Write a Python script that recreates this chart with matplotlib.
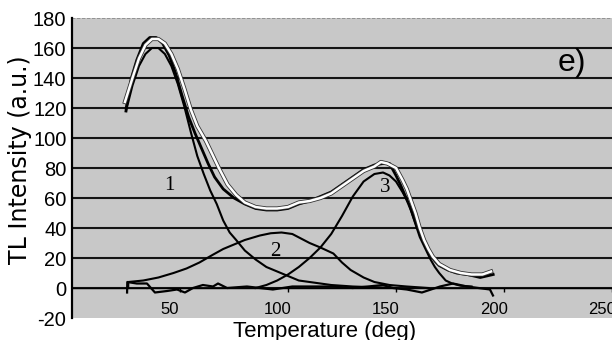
import numpy as np
import matplotlib
matplotlib.use('Agg')
import matplotlib.pyplot as plt
import matplotlib.patheffects as pe
from matplotlib.transforms import ScaledTranslation

# measured glow curve (black)
exp_t = [25, 25.1, 27.5, 30, 33, 36, 39, 42, 45, 48, 51, 54, 57, 60, 63, 66, 70, 75, 80,
         85, 90, 95, 100, 105, 110, 115, 120, 125, 130, 135, 140, 144, 147, 150, 152,
         155, 157, 160, 162, 164, 166, 168, 170, 174, 178, 183, 189, 192, 195]
exp_i = [118, 120, 140, 152, 163, 167, 167, 163, 155, 143, 128, 114, 103, 93, 83, 74, 66, 60, 56,
         53, 52, 52, 53, 56, 58, 61, 64, 69, 74, 79, 82, 83, 83, 75, 69,
         59, 52, 40, 34, 28, 22, 18, 15, 12, 10, 9, 7, 8, 9]

# fitted sum (white)
fit_t = [24.5, 28, 31, 34, 37, 40, 43, 46, 49, 52, 55, 58, 62, 65, 68, 72, 76, 80, 85, 90,
         95, 100, 105, 110, 115, 120, 125, 130, 135, 140, 143, 146, 150, 153, 155, 157,
         159, 161, 163, 165, 167, 170, 175, 180, 185, 190, 194]
fit_i = [124, 140, 153, 162, 166, 166, 163, 156, 146, 133, 119, 108, 98, 89, 80, 69, 62, 57, 54, 53,
         53, 54, 57, 58, 60, 63, 68, 73, 78, 81, 84, 83, 80, 72, 66, 58,
         50, 40, 32, 26, 21, 16, 12, 10, 9, 9, 11]

# component peaks 1, 2, 3
p1_t = [25, 28, 31, 34, 37, 40, 43, 46, 49, 52, 55, 58, 61, 64, 67, 70, 73, 76, 80, 85,
        90, 95, 100, 105, 110, 120, 130, 140, 150]
p1_i = [118, 135, 148, 156, 160, 160, 156, 148, 136, 121, 104, 88, 76, 65, 56, 45, 37, 32, 25, 19,
        14, 11, 8, 5, 4, 2, 1, 0.5, 0]

p2_t = [26, 26.1, 33, 40, 47, 53, 59, 65, 70, 75, 80, 87, 92, 97, 102, 106, 110, 115, 121,
        125, 129, 135, 140, 147, 155, 165]
p2_i = [0, 4, 5, 7, 10, 13, 17, 22, 26, 29, 32, 35, 36.5, 37, 36, 33, 30, 27, 23,
        17, 12, 7, 4, 2, 1, 0]

p3_t = [85, 90, 95, 100, 105, 110, 115, 120, 125, 130, 135, 140, 144, 147, 150, 153, 156,
        158, 161, 164, 166, 168, 170, 173, 176, 180, 185]
p3_i = [0, 2, 5, 9, 14, 20, 27, 36, 48, 61, 71, 76, 77, 75, 71, 64, 56,
        47, 34, 25, 19, 14, 10, 5, 3, 1.5, 1]

# residual / background trace
res_t = [25.5, 25.6, 30, 34.7, 38.4, 44, 48.6, 52.3, 56, 60.6, 65.3, 67.6, 71.8, 81, 87, 93,
         102, 110, 120.8, 130, 144, 148.6, 155, 162, 170.4, 176.4, 182.9, 193.5, 194.9]
res_i = [-3, 4, 3, 3, -3, -2, -1, -3, 0, 2, 1, 3, 0, 1, 0, -1,
         1, 1, 1, 0, 2, 0, -1, -3, 1, 3, 1, -1, -5]

yticks = [-20, 0, 20, 40, 60, 80, 100, 120, 140, 160, 180]
xticks = [50, 100, 150, 200, 250]
peak_labels = [('1', 45, 68), ('2', 94, 24), ('3', 145, 67)]

fig = plt.figure(figsize=(6.12, 3.4), dpi=100)
ax = fig.add_axes([72/612, 1-318/340, 1-72/612, 300/340])
ax.set_facecolor('#c8c8c8')
ax.set_xlim(0, 250)
ax.set_ylim(-20, 180)

for y in yticks[1:]:
    if y == 180:
        ax.axhline(y, color='#8a8a8a', lw=1.2, ls=(0, (2, 1)), zorder=1)
    else:
        ax.axhline(y, color='#151515', lw=1.5, zorder=1)

ax.plot(res_t, res_i, color='black', lw=1.6, zorder=3)
ax.plot(p1_t, p1_i, color='black', lw=1.5, zorder=3)
ax.plot(p2_t, p2_i, color='black', lw=1.5, zorder=3)
ax.plot(p3_t, p3_i, color='black', lw=1.5, zorder=3)
ax.plot(exp_t, exp_i, color='black', lw=2.0, zorder=4)
ax.plot(fit_t, fit_i, color='white', lw=1.8, zorder=5,
        path_effects=[pe.Stroke(linewidth=3.0, foreground='#333333'), pe.Normal()])

for txt, x, y in peak_labels:
    ax.text(x, y, txt, fontsize=15, family='Liberation Serif', ha='center', va='center', zorder=6)

ax.text(572/612, 1-63/340, 'e)', transform=fig.transFigure, fontsize=23,
        family='Liberation Sans', ha='center', va='center')

for s in ['top', 'right']:
    ax.spines[s].set_visible(False)
ax.spines['left'].set_linewidth(1.6)
ax.spines['left'].set_color('black')
ax.spines['bottom'].set_position(('data', 0))
ax.spines['bottom'].set_linewidth(1.0)

ax.set_yticks(yticks)
ax.set_yticklabels([str(v) for v in yticks], family='Liberation Sans', fontsize=14.5)
ax.tick_params(axis='y', length=0, pad=4)
ax.set_xticks(xticks)
ax.set_xticklabels([str(v) for v in xticks], family='Liberation Sans', fontsize=12)
ax.tick_params(axis='x', direction='out', length=3, width=1, pad=7)
off = ScaledTranslation(-10/100, 0, fig.dpi_scale_trans)
for lab in ax.get_xticklabels():
    lab.set_transform(lab.get_transform() + off)

fig.text(325/612, 1-331/340, 'Temperature (deg)', fontsize=16, family='Liberation Sans',
         ha='center', va='center')
fig.text(20/612, 1-160/340, 'TL Intensity (a.u.)', fontsize=17, family='DejaVu Sans',
         rotation=90, ha='center', va='center')

fig.savefig('out.png', dpi=100)
